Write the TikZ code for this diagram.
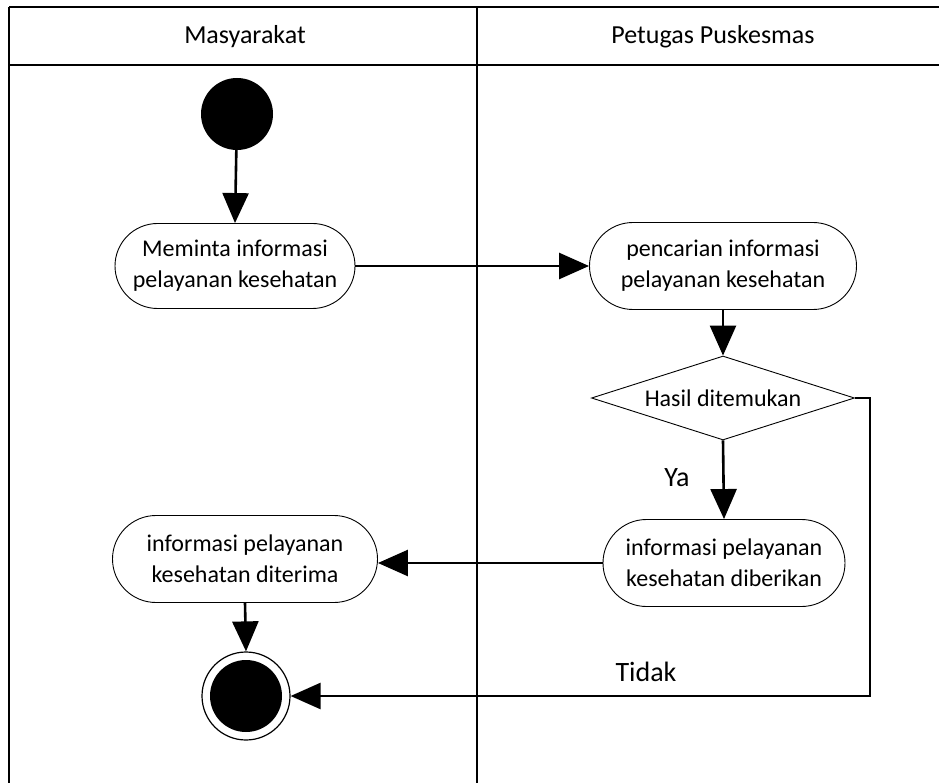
\documentclass[tikz,border=0pt]{standalone}
\usepackage{fontspec}
\setmainfont{Carlito}
\usetikzlibrary{shapes.misc,shapes.geometric,arrows.meta}

\tikzset{
  lane/.style={line width=2pt, draw=black},
  act/.style={rounded rectangle, draw=black, line width=0.9pt, fill=white,
              align=center, inner sep=0pt,
              font=\fontsize{24}{31}\selectfont},
  decision/.style={diamond, aspect=3.13, draw=black, line width=0.9pt, fill=white,
              inner sep=0pt, font=\fontsize{24}{30}\selectfont},
  flow/.style={line width=2.6pt, -{Triangle[length=30pt,width=26pt]}},
  head/.style={font=\fontsize{26}{30}\selectfont},
  guard/.style={font=\fontsize{28}{32}\selectfont}
}

\begin{document}
\begin{tikzpicture}[x=1pt,y=-1pt]
  \useasboundingbox (0,0) rectangle (939,783);

  % swimlane frame
  \draw[lane] (9,7) -- (939,7);
  \draw[lane] (9,65) -- (939,65);
  \draw[lane] (9,7) -- (9,783);
  \draw[lane] (477,7) -- (477,783);
  \node[head] (h1) at (245,37) {Masyarakat};
  \node[head] (h2) at (713,37) {Petugas Puskesmas};

  % initial node
  \node[circle, fill=black, minimum size=72pt, inner sep=0pt] (start) at (237,114) {};

  % activities
  \node[act, minimum width=240pt, minimum height=85pt] (a1) at (235,266)
       {Meminta informasi\\pelayanan kesehatan};
  \node[act, minimum width=267pt, minimum height=87pt] (a2) at (723,266)
       {pencarian informasi\\pelayanan kesehatan};
  \node[decision, minimum width=263pt, minimum height=84pt] (d1) at (723,398)
       {Hasil ditemukan};
  \node[act, minimum width=242pt, minimum height=87pt] (a3) at (724,563)
       {informasi pelayanan\\kesehatan diberikan};
  \node[act, minimum width=265pt, minimum height=87pt] (a4) at (245,559)
       {informasi pelayanan\\kesehatan diterima};

  % final node
  \node[circle, draw=black, line width=1.2pt, fill=white, minimum size=88pt,
        inner sep=0pt] (end) at (246,696) {};
  \node[circle, fill=black, minimum size=72pt, inner sep=0pt] (endcore) at (end) {};

  % guard labels
  \node[guard] (ya) at (677,478) {Ya};
  \node[guard] (tidak) at (646,672) {Tidak};

  % control flow
  \draw[flow] (start) -- (a1.north);
  \draw[flow] (a1.east) -- (a2.west);
  \draw[flow] (a2.south) -- (d1.north);
  \draw[flow] (d1.south) -- (a3.north);
  \draw[flow] (a3.west) -- (a3.west -| a4.east);
  \draw[flow] (a4.south) -- (end.north);
  \coordinate (turn1) at (870,398);
  \coordinate (turn2) at (870,696);
  \draw[flow] (d1.east) -- (turn1) -- (turn2) -- (end.east);
\end{tikzpicture}
\end{document}
